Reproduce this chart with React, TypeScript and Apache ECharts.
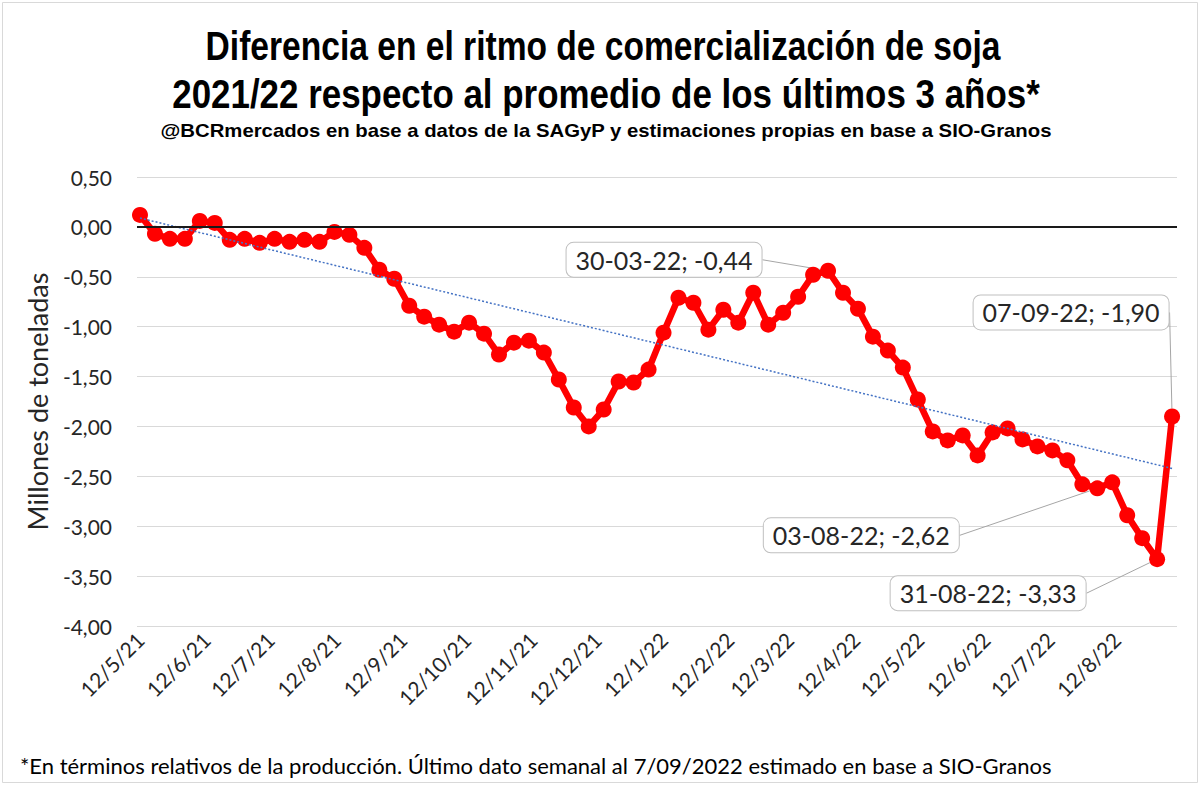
import React, { useEffect, useRef } from "react";
import * as echarts from "echarts";

const TITLE_LINE_1 = "Diferencia en el ritmo de comercialización de soja";
const TITLE_LINE_2 = "2021/22 respecto al promedio de los últimos 3 años*";
const SUBTITLE = "@BCRmercados en base a datos de la SAGyP y estimaciones propias en base a SIO-Granos";
const FOOTNOTE = "*En términos relativos de la producción. Último dato semanal al 7/09/2022 estimado en base a SIO-Granos";
const Y_AXIS_NAME = "Millones de toneladas";

// first weekly observation (Wednesday 12/05/2021), weekly step
const FIRST_WEEK = { year: 2021, month: 5, day: 12 };

// weekly difference (millions of tonnes)
const WEEK_VALUES = [
  0.12, -0.07, -0.12, -0.12, 0.06, 0.04, -0.13, -0.12, -0.16, -0.12,
  -0.15, -0.13, -0.15, -0.05, -0.08, -0.21, -0.43, -0.52, -0.79, -0.9,
  -0.98, -1.05, -0.96, -1.07, -1.28, -1.16, -1.14, -1.26, -1.53, -1.81,
  -2.0, -1.83, -1.55, -1.56, -1.43, -1.06, -0.71, -0.76, -1.03, -0.83,
  -0.96, -0.66, -0.98, -0.86, -0.7, -0.48, -0.44, -0.66, -0.82, -1.1,
  -1.24, -1.41, -1.73, -2.05, -2.14, -2.09, -2.29, -2.06, -2.02, -2.13,
  -2.2, -2.24, -2.34, -2.58, -2.62, -2.56, -2.89, -3.12, -3.33, -1.9,
];

// x-axis tick labels (d/m/yy)
const X_TICK_LABELS = [
  "12/5/21", "12/6/21", "12/7/21", "12/8/21", "12/9/21", "12/10/21", "12/11/21", "12/12/21",
  "12/1/22", "12/2/22", "12/3/22", "12/4/22", "12/5/22", "12/6/22", "12/7/22", "12/8/22",
];

const Y_MIN = -4;
const Y_MAX = 0.5;
const Y_STEP = 0.5;

// indices of the weeks that carry a callout label
const LABELED_WEEKS = [46, 64, 68, 69];

const DAY = 86400000;

function measure(text: string, font: string): number {
  const c = document.createElement("canvas");
  const ctx = c.getContext("2d");
  if (!ctx) return 0;
  ctx.font = font;
  return ctx.measureText(text).width;
}

export default function App() {
  const ref = useRef<HTMLDivElement>(null);

  useEffect(() => {
    if (!ref.current) return;
    const chart = echarts.init(ref.current, null, { renderer: "svg" });

    const start = new Date(FIRST_WEEK.year, FIRST_WEEK.month - 1, FIRST_WEEK.day).getTime();
    const times = WEEK_VALUES.map((_, i) => {
      const d = new Date(FIRST_WEEK.year, FIRST_WEEK.month - 1, FIRST_WEEK.day + 7 * i);
      return d.getTime();
    });
    const tickValues = X_TICK_LABELS.map((s) => {
      const [d, m, y] = s.split("/").map(Number);
      return new Date(2000 + y, m - 1, d).getTime();
    });

    // linear trend (least squares) like the spreadsheet trendline
    const n = WEEK_VALUES.length;
    const xs = times.map((t) => (t - start) / DAY);
    const mx = xs.reduce((a, b) => a + b, 0) / n;
    const my = WEEK_VALUES.reduce((a, b) => a + b, 0) / n;
    let sxy = 0;
    let sxx = 0;
    for (let i = 0; i < n; i++) {
      sxy += (xs[i] - mx) * (WEEK_VALUES[i] - my);
      sxx += (xs[i] - mx) * (xs[i] - mx);
    }
    const slope = sxy / sxx;
    const icpt = my - slope * mx;
    const trend = [
      [times[0], icpt + slope * xs[0]],
      [times[n - 1], icpt + slope * xs[n - 1]],
    ];

    const pad2 = (v: number) => (v < 10 ? "0" + v : "" + v);
    const fmtNum = (v: number) => v.toFixed(2).replace(".", ",");
    const fmtDate = (t: number) => {
      const d = new Date(t);
      return pad2(d.getDate()) + "-" + pad2(d.getMonth() + 1) + "-" + pad2(d.getFullYear() % 100);
    };

    const labelOffsets: Record<number, [number, number]> = {
      46: [-164, -11],
      64: [-236, 47],
      68: [-169, 34],
      69: [-101, -104],
    };

    const bodyFont = "Lato, 'Open Sans', sans-serif";
    const titleFamily = "'Liberation Sans', Arial, sans-serif";
    const t1Font = "bold 41px " + titleFamily;
    const t2Font = "bold 41px " + titleFamily;
    const stFont = "bold 18px " + titleFamily;
    const fit = (text: string, font: string, target: number) => {
      const w = measure(text, font);
      return w > 0 ? target / w : 1;
    };

    const mainData = WEEK_VALUES.map((v, i) => {
      const item: any = { value: [times[i], v] };
      if (LABELED_WEEKS.includes(i)) {
        item.label = { show: true };
      }
      return item;
    });

    chart.setOption({
      animation: false,
      backgroundColor: "#ffffff",
      grid: { left: 137, right: 23, top: 177, bottom: 159, containLabel: false },
      xAxis: {
        type: "value",
        min: start - 1.4 * DAY,
        max: times[n - 1] + 2.3 * DAY,
        axisLine: { show: false },
        axisTick: { show: false },
        splitLine: { show: false },
        axisLabel: {
          customValues: tickValues,
          rotate: 45,
          fontSize: 21,
          fontFamily: bodyFont,
          color: "#262626",
          margin: 10,
          hideOverlap: false,
          formatter: (val: number) => {
            const d = new Date(val);
            return d.getDate() + "/" + (d.getMonth() + 1) + "/" + pad2(d.getFullYear() % 100);
          },
        },
      },
      yAxis: {
        type: "value",
        min: Y_MIN,
        max: Y_MAX,
        interval: Y_STEP,
        name: Y_AXIS_NAME,
        nameLocation: "middle",
        nameRotate: 90,
        nameGap: 86,
        nameTextStyle: { fontSize: 27, fontFamily: bodyFont, color: "#262626" },
        axisLine: { show: false },
        axisTick: { show: false },
        splitLine: { lineStyle: { color: "#d9d9d9", width: 1 } },
        axisLabel: {
          fontSize: 21,
          fontFamily: bodyFont,
          color: "#262626",
          margin: 25,
          formatter: (v: number) => fmtNum(v),
        },
      },
      series: [
        {
          type: "line",
          data: [],
          z: 1,
          silent: true,
          markLine: {
            silent: true,
            symbol: ["none", "none"],
            label: { show: false },
            lineStyle: { color: "#1a1a1a", width: 1.8, type: "solid" },
            data: [{ yAxis: 0 }],
          },
        },
        {
          type: "line",
          data: mainData,
          z: 2,
          symbol: "circle",
          symbolSize: 16,
          itemStyle: { color: "#ff0000" },
          lineStyle: { color: "#ff0000", width: 6.5 },
          label: {
            show: false,
            position: "inside",
            fontSize: 25,
            fontFamily: bodyFont,
            color: "#262626",
            backgroundColor: "#ffffff",
            borderColor: "#bfbfbf",
            borderWidth: 1,
            borderRadius: 7,
            padding: [5, 9, 4, 9],
            formatter: (p: any) => fmtDate(p.value[0]) + "; " + fmtNum(p.value[1]),
          },
          labelLine: { show: true, lineStyle: { color: "#a6a6a6", width: 1 } },
          labelLayout: (params: any) => {
            const off = labelOffsets[params.dataIndex];
            if (!off) return {};
            return { dx: off[0], dy: off[1] };
          },
        },
        {
          type: "line",
          data: trend,
          z: 3,
          symbol: "none",
          silent: true,
          lineStyle: { color: "#4472c4", width: 1.5, type: [2, 2] },
        },
      ],
      graphic: [
        {
          type: "rect",
          shape: { x: 2.5, y: 2.5, width: 1195, height: 780 },
          style: { fill: "none", stroke: "#d9d9d9", lineWidth: 1 },
          silent: true,
        },
        {
          type: "text",
          x: 603,
          y: 46,
          scaleX: fit(TITLE_LINE_1, t1Font, 795),
          style: {
            text: TITLE_LINE_1,
            font: t1Font,
            fill: "#000000",
            textAlign: "center",
            textVerticalAlign: "middle",
          },
        },
        {
          type: "text",
          x: 606,
          y: 94,
          scaleX: fit(TITLE_LINE_2, t2Font, 868),
          style: {
            text: TITLE_LINE_2,
            font: t2Font,
            fill: "#000000",
            textAlign: "center",
            textVerticalAlign: "middle",
          },
        },
        {
          type: "text",
          x: 606,
          y: 131,
          scaleX: fit(SUBTITLE, stFont, 892),
          style: {
            text: SUBTITLE,
            font: stFont,
            fill: "#000000",
            textAlign: "center",
            textVerticalAlign: "middle",
          },
        },
        {
          type: "text",
          x: 20,
          y: 765,
          style: {
            text: FOOTNOTE,
            font: "22px " + bodyFont,
            fill: "#000000",
            textAlign: "left",
            textVerticalAlign: "middle",
          },
        },
      ],
    });

    return () => chart.dispose();
  }, []);

  return (
    <div
      ref={ref}
      style={{ position: "fixed", left: 0, top: 0, width: 1200, height: 785, background: "#fff" }}
    />
  );
}
